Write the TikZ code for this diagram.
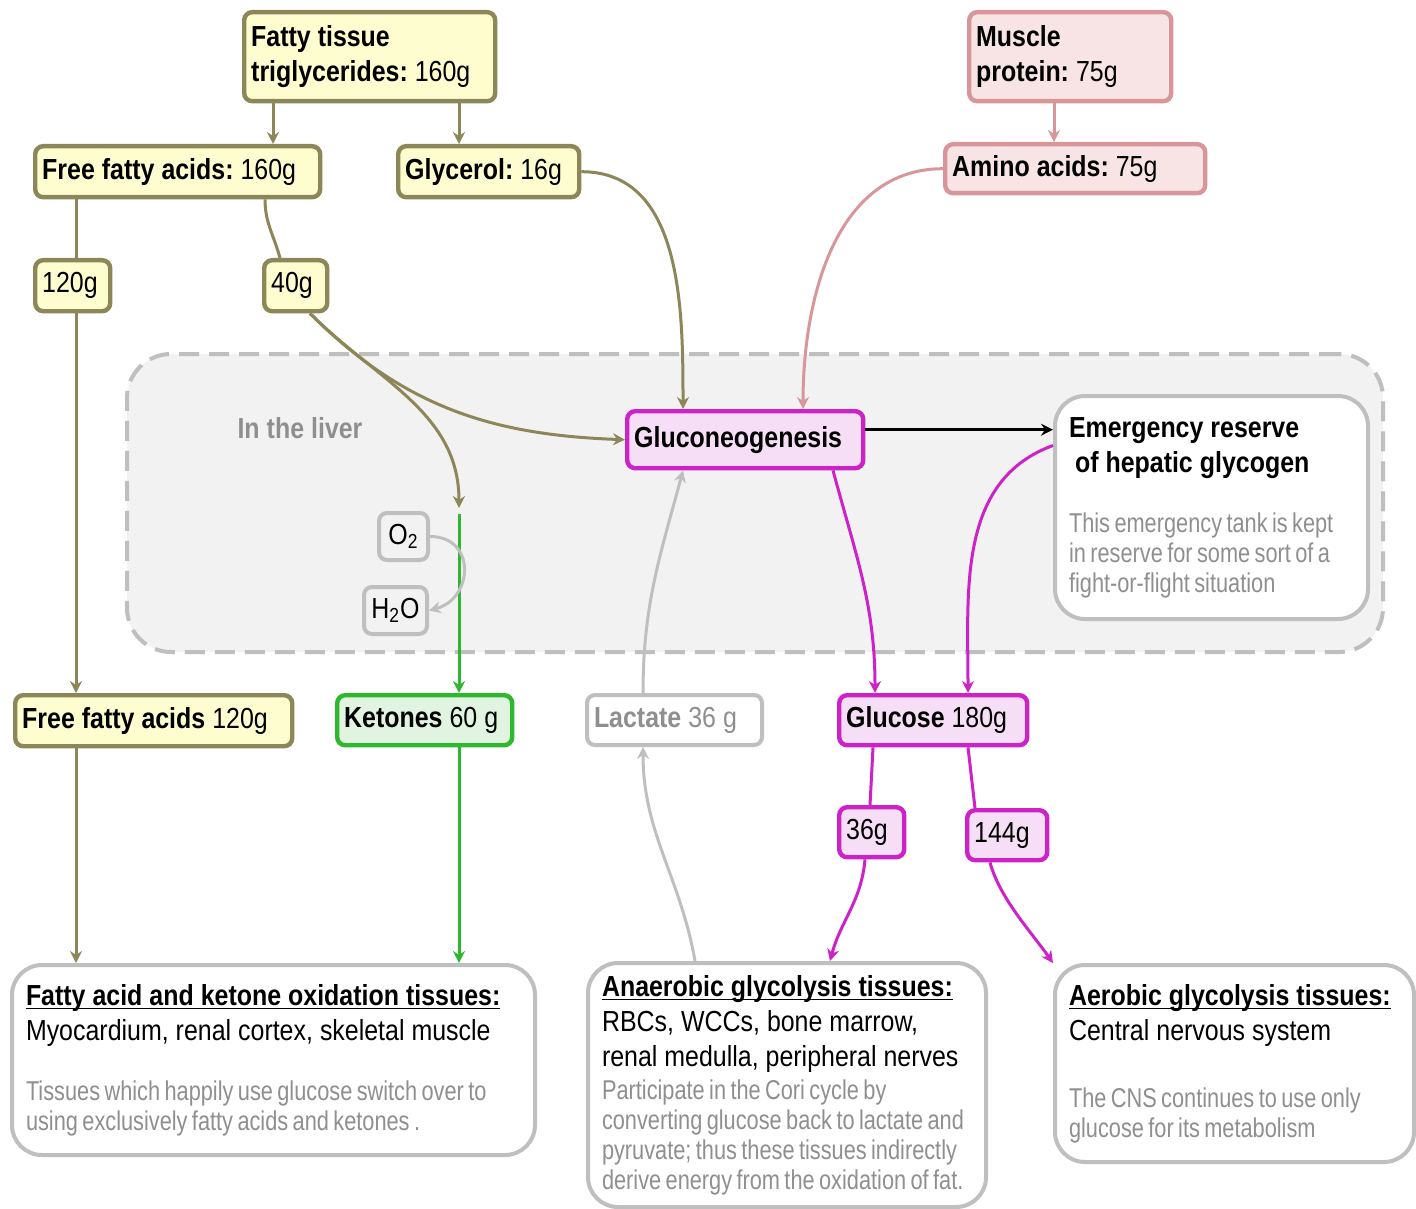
\documentclass[tikz,border=0pt]{standalone}
\usepackage{fontspec}
\setmainfont{Liberation Sans}[FakeStretch=0.86]
\newfontfamily\slimfont{Liberation Sans}[FakeStretch=0.8]
\usetikzlibrary{arrows.meta,positioning}
\newcommand{\mainfont}{\fontsize{14.5}{17.5}\selectfont\spaceskip=3.5pt\relax\xspaceskip=3.5pt\relax}
\newcommand{\greynote}{\slimfont\fontsize{13.6}{15}\selectfont\spaceskip=2.2pt\relax\xspaceskip=2.2pt\relax\color{note-text}}
\newcommand{\uhead}[1]{\sbox0{\textbf{#1}}\usebox0\llap{\rule[-2pt]{\wd0}{0.8pt}}}
\begin{document}
\begin{tikzpicture}[x=0.5pt, y=-0.5pt, >={Stealth[length=6pt,width=6pt,inset=2pt]}]
    \definecolor{fat-line}{HTML}{8C8658}
    \definecolor{fat-fill}{HTML}{FDFDCF}
    \definecolor{prot-line}{HTML}{D8959A}
    \definecolor{prot-fill}{HTML}{F8E4E4}
    \definecolor{sugar-line}{HTML}{CC22C8}
    \definecolor{sugar-fill}{HTML}{F6DFF6}
    \definecolor{ket-line}{HTML}{2EB82E}
    \definecolor{ket-fill}{HTML}{E1F4E1}
    \definecolor{grey-line}{HTML}{BFBFBF}
    \definecolor{liver-fill}{HTML}{F2F2F2}
    \definecolor{note-text}{HTML}{8F8F8F}
    \tikzstyle{every node}=[font=\mainfont, inner ysep=0pt]
    \tikzstyle{pool} = [rectangle, draw, line width=2.2pt, rounded corners=4pt, anchor=north west, inner xsep=3.5pt, align=flush left]
    \tikzstyle{fatbox} = [pool, draw=fat-line, fill=fat-fill]
    \tikzstyle{protbox} = [pool, draw=prot-line, fill=prot-fill]
    \tikzstyle{sugarbox} = [pool, draw=sugar-line, fill=sugar-fill]
    \tikzstyle{ketbox} = [pool, draw=ket-line, fill=ket-fill]
    \tikzstyle{gasbox} = [pool, line width=2pt, draw=grey-line, fill=liver-fill, align=flush center]
    \tikzstyle{lacbox} = [pool, line width=2pt, draw=grey-line, fill=white, text=note-text]
    \tikzstyle{tissue} = [rectangle, draw=grey-line, line width=2pt, fill=white, rounded corners=15pt, anchor=north west, inner xsep=7pt, align=flush left]
    \tikzstyle{region} = [rectangle, draw=grey-line, line width=2pt, dash pattern=on 10pt off 5pt, fill=liver-fill, rounded corners=22pt]
    \tikzstyle{fatflow} = [draw=fat-line, line width=1.5pt]
    \tikzstyle{protflow} = [draw=prot-line, line width=1.5pt]
    \tikzstyle{sugarflow} = [draw=sugar-line, line width=1.5pt]
    \tikzstyle{ketflow} = [draw=ket-line, line width=1.5pt]
    \tikzstyle{greyflow} = [draw=grey-line, line width=1.5pt]
    \path[use as bounding box, fill=white] (0,0) rectangle (1416,1208);
    % liver compartment
        \node (liver) [region, minimum width=628pt, minimum height=149pt] at (755,503) {};
        \node (liverlabel) [text=note-text] at (300,428) {\textbf{In the liver}};
    % stores and pools
        \node (fat) [fatbox, text width=118.5pt, minimum height=44.5pt] at (242,10) {\textbf{Fatty tissue}\\\textbf{triglycerides:} 160g};
        \node (ffa) [fatbox, text width=135.5pt, minimum height=25.5pt] at (33,144) {\textbf{Free fatty acids:} 160g};
        \node (gly) [fatbox, text width=83.5pt, minimum height=25.5pt] at (396,144) {\textbf{Glycerol:} 16g};
        \node (g120) [fatbox, text width=30.5pt, minimum height=25.5pt] at (33,258) {120g};
        \node (g40) [fatbox, text width=24.5pt, minimum height=25.5pt] at (262,258) {40g};
        \node (mus) [protbox, text width=94pt, minimum height=44.5pt] at (967,10) {\textbf{Muscle}\\\textbf{protein:} 75g};
        \node (amino) [protbox, text width=123pt, minimum height=24.5pt] at (943,142) {\textbf{Amino acids:} 75g};
        \node (gluco) [sugarbox, text width=111pt, minimum height=28.5pt] at (625,409) {\textbf{Gluconeogenesis}};
        \node (emerg) [tissue, text width=142.5pt, minimum height=111.5pt] at (1053,394) {\textbf{Emergency reserve}\\\hspace*{3pt}\textbf{of hepatic glycogen}\par\vspace{15pt}{\greynote This emergency tank is kept\\in reserve for some sort of a\\fight-or-flight situation\par}};
        \node (o2) [gasbox, text width=17.5pt, minimum height=23.5pt] at (377,511) {O\textsubscript{2}};
        \node (h2o) [gasbox, text width=24.5pt, minimum height=23.5pt] at (362,585) {H\textsubscript{2}O};
        \coordinate (ketin) at (459,508);
        \node (ffb) [fatbox, text width=131.5pt, minimum height=25.5pt] at (13,693) {\textbf{Free fatty acids} 120g};
        \node (ket) [ketbox, text width=80.5pt, minimum height=25pt] at (335,693) {\textbf{Ketones} 60 g};
        \node (lac) [lacbox, text width=80.5pt, minimum height=25pt] at (585,693) {\textbf{Lactate} 36 g};
        \node (glu) [sugarbox, text width=87pt, minimum height=25pt] at (837,693) {\textbf{Glucose} 180g};
        \node (g36) [sugarbox, text width=25.5pt, minimum height=25pt] at (837,805) {36g};
        \node (g144) [sugarbox, text width=33pt, minimum height=25pt] at (965,808) {144g};
    % consuming tissues
        \node (fox) [tissue, text width=247.5pt, minimum height=95pt] at (10,963) {\uhead{Fatty acid and ketone oxidation tissues:}\\Myocardium, renal cortex, skeletal muscle\par\vspace{15pt}{\greynote Tissues which happily use glucose switch over to\\using exclusively fatty acids and ketones .\par}};
        \node (ana) [tissue, text width=185pt, minimum height=122pt] at (586,961) {\uhead{Anaerobic glycolysis tissues:}\\RBCs, WCCs, bone marrow,\\renal medulla, peripheral nerves\par\vspace{1.5pt}{\greynote Participate in the Cori cycle by\\converting glucose back to lactate and\\pyruvate; thus these tissues indirectly\\derive energy from the oxidation of fat.\par}};
        \node (aer) [tissue, text width=165.5pt, minimum height=98.5pt] at (1053,963) {\uhead{Aerobic glycolysis tissues:}\\Central nervous system\par\vspace{18.5pt}{\greynote The CNS continues to use only\\glucose for its metabolism\par}};
    % fat flows
        \draw[fatflow, ->] ([xshift=15.5pt]fat.south west) -- ([xshift=15.5pt]fat.south west |- ffa.north);
        \draw[fatflow, ->] ([xshift=108.5pt]fat.south west) -- ([xshift=108.5pt]fat.south west |- gly.north);
        \draw[fatflow] ([xshift=21.5pt]ffa.south west) -- ([xshift=21.5pt]ffa.south west |- g120.north);
        \draw[fatflow] ([xshift=116pt]ffa.south west) to[out=-90, in=105] ([xshift=9pt]g40.north west);
        \draw[fatflow, ->] ([xshift=21.5pt]g120.south west) -- ([xshift=21.5pt]g120.south west |- ffb.north);
        \draw[fatflow, ->] ([xshift=21.5pt]g120.south west |- ffb.south) -- ([xshift=21.5pt]g120.south west |- fox.north);
        \draw[fatflow, ->] ([xshift=24pt]g40.south west) to[out=-45, in=178] (gluco.west);
        \draw[fatflow, ->] ([xshift=24pt]g40.south west) to[out=-45, in=90] (ketin);
        \draw[fatflow, ->] (gly.east) to[out=0, in=90] ([xshift=29pt]gluco.north west);
    % protein flows
        \draw[protflow, ->] ([xshift=43.5pt]mus.south west) -- ([xshift=43.5pt]mus.south west |- amino.north);
        \draw[protflow, ->] (amino.west) to[out=180, in=90] ([xshift=89pt]gluco.north west);
    % ketones
        \draw[ketflow, ->] ([yshift=-3pt]ketin) -- (ketin |- ket.north);
        \draw[ketflow, ->] (ketin |- ket.south) -- (ketin |- fox.north);
        \draw[greyflow, ->] (o2.east) to[out=0, in=15, looseness=1.6] (h2o.east);
    % glucose flows
        \draw[line width=1.5pt, ->] ([yshift=5pt]gluco.east) -- ([yshift=5pt]gluco.east -| emerg.west);
        \draw[sugarflow, ->] ([xshift=104pt]gluco.south west) to[out=-75, in=90] ([xshift=19pt]glu.north west);
        \draw[sugarflow, ->] ([yshift=31pt]emerg.west) to[out=200, in=90] ([xshift=65.5pt]glu.north west);
        \draw[sugarflow] ([xshift=18pt]glu.south west) -- ([xshift=16.5pt]g36.north west);
        \draw[sugarflow] ([xshift=65.5pt]glu.south west) -- ([xshift=5pt]g144.north west);
        \draw[sugarflow, ->] ([xshift=14pt]g36.south west) to[out=-95, in=75] ([xshift=122pt]ana.north west);
        \draw[sugarflow, ->] ([xshift=12.5pt]g144.south west) to[out=-75, in=125, looseness=0.8] (aer.north west);
    % Cori cycle
        \draw[greyflow, ->] ([xshift=54.5pt]ana.north west) to[out=100, in=-90] ([xshift=29pt]lac.south west);
        \draw[greyflow, ->] ([xshift=29pt]lac.north west) to[out=90, in=-105] ([xshift=29pt]gluco.south west);
\end{tikzpicture}
\end{document}
